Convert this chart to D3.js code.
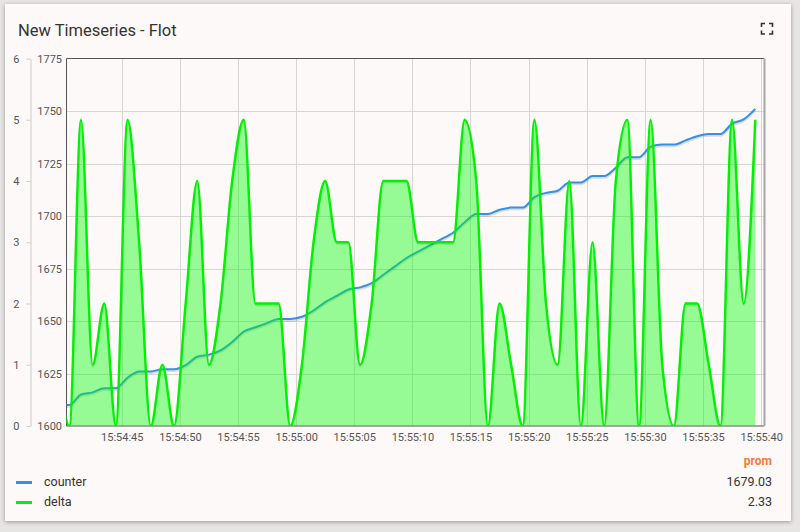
<!DOCTYPE html>
<html>
<head>
<meta charset="utf-8">
<script src="https://cdn.jsdelivr.net/npm/d3@7"></script>
<style>
  html, body { margin: 0; padding: 0; }
  body { width: 800px; height: 532px; background: #e7e5e4; position: relative; overflow: hidden; font-family: Roboto, "Noto Sans", sans-serif; }
  #card { position: absolute; left: 5px; top: 4px; width: 786px; height: 517px; background: #fcf9f8; box-shadow: 0 1px 4px rgba(0,0,0,0.35); }
  svg { position: absolute; left: 0; top: 0; }
</style>
</head>
<body>
<div id="card"></div>
<svg id="chart" width="800" height="532"></svg>
<script>
// ---- data ----
const title = "New Timeseries - Flot";
const times = [
  "15:54:39.5","15:54:40.5","15:54:41.5","15:54:42.5","15:54:43.5","15:54:44.5","15:54:45.5","15:54:46.5","15:54:47.5","15:54:48.5","15:54:49.5",
  "15:54:50.5","15:54:51.5","15:54:52.5","15:54:53.5","15:54:54.5","15:54:55.5","15:54:56.5","15:54:57.5","15:54:58.5","15:54:59.5",
  "15:55:00.5","15:55:01.5","15:55:02.5","15:55:03.5","15:55:04.5","15:55:05.5","15:55:06.5","15:55:07.5","15:55:08.5","15:55:09.5",
  "15:55:10.5","15:55:11.5","15:55:12.5","15:55:13.5","15:55:14.5","15:55:15.5","15:55:16.5","15:55:17.5","15:55:18.5","15:55:19.5",
  "15:55:20.5","15:55:21.5","15:55:22.5","15:55:23.5","15:55:24.5","15:55:25.5","15:55:26.5","15:55:27.5","15:55:28.5","15:55:29.5",
  "15:55:30.5","15:55:31.5","15:55:32.5","15:55:33.5","15:55:34.5","15:55:35.5","15:55:36.5","15:55:37.5","15:55:38.5","15:55:39.5"
];
const counterValues = [
  1610,1610,1615,1616,1618,1618,1623,1626,1626,1627,1627,
  1629,1633,1634,1636,1640,1645,1647,1649,1651,1651,
  1652,1655,1659,1662,1665,1666,1668,1672,1676,1680,
  1683,1686,1689,1692,1697,1701,1701,1703,1704,1704,
  1709,1711,1712,1716,1716,1719,1719,1723,1728,1728,
  1733,1734,1734,1736,1738,1739,1739,1744,1746,1751
];
const deltaValues = [
  1,0,5,1,2,0,5,3,0,1,0,
  2,4,1,2,4,5,2,2,2,0,
  1,3,4,3,3,1,2,4,4,4,
  3,3,3,3,5,4,0,2,1,0,
  5,2,1,4,0,3,0,4,5,0,
  5,1,0,2,2,1,0,5,2,5
];
const timeRange = ["15:54:40.25", "15:55:40.25"];
const xTickLabels = ["15:54:45","15:54:50","15:54:55","15:55:00","15:55:05","15:55:10","15:55:15","15:55:20","15:55:25","15:55:30","15:55:35","15:55:40"];
const counterTicks = [1600,1625,1650,1675,1700,1725,1750,1775];
const deltaTicks = [0,1,2,3,4,5,6];
const counterDomain = [1600, 1775];
const deltaDomain = [0, 6];
const seriesNames = ["counter", "delta"];
const legendHeader = "prom";
const legendValues = ["1679.03", "2.33"];

// ---- helpers ----
function parseT(s) {
  const p = s.split(":");
  const sec = parseFloat(p[2]);
  return new Date(Date.UTC(2021, 0, 1, +p[0], +p[1], 0) + sec * 1000);
}

const colors = { counter: "#3391e6", delta: "#00f200" };
const plot = { left: 66.5, right: 764, top: 58.5, bottom: 426 };

const svg = d3.select("#chart");

const x = d3.scaleUtc().domain(timeRange.map(parseT)).range([plot.left, plot.right]);
const yC = d3.scaleLinear().domain(counterDomain).range([plot.bottom, plot.top]);
const yD = d3.scaleLinear().domain(deltaDomain).range([plot.bottom, plot.top]);

const data = times.map((t, i) => ({ t: parseT(t), c: counterValues[i], d: deltaValues[i] }));

// title
svg.append("text").attr("x", 18).attr("y", 36)
  .attr("font-size", 16.5).attr("fill", "#333").attr("font-family", "Roboto")
  .text(title);

// fullscreen icon
const ic = svg.append("g").attr("stroke", "#333").attr("stroke-width", 1.6).attr("fill", "none");
const ix0 = 761.5, iy0 = 23.5, ix1 = 772.5, iy1 = 34, a = 3.5;
ic.append("path").attr("d", `M${ix0},${iy0+a}V${iy0}H${ix0+a}`);
ic.append("path").attr("d", `M${ix1-a},${iy0}H${ix1}V${iy0+a}`);
ic.append("path").attr("d", `M${ix0},${iy1-a}V${iy1}H${ix0+a}`);
ic.append("path").attr("d", `M${ix1-a},${iy1}H${ix1}V${iy1-a}`);

// clip
svg.append("defs").append("clipPath").attr("id", "clip")
  .append("rect").attr("x", plot.left).attr("y", plot.top - 5)
  .attr("width", plot.right - plot.left).attr("height", plot.bottom - plot.top + 5);

// grid
const grid = svg.append("g").attr("stroke", "#d8d5d5").attr("stroke-width", 1);
counterTicks.slice(1, -1).forEach(v => {
  grid.append("line").attr("x1", plot.left).attr("x2", plot.right)
    .attr("y1", Math.round(yC(v)) + 0.5).attr("y2", Math.round(yC(v)) + 0.5);
});
xTickLabels.forEach(s => {
  const xv = Math.round(x(parseT(s))) + 0.5;
  grid.append("line").attr("x1", xv).attr("x2", xv).attr("y1", plot.top).attr("y2", plot.bottom);
});

// border
svg.append("path").attr("fill", "none").attr("stroke", "#555").attr("stroke-width", 1)
  .attr("d", `M${plot.right},${plot.top}H${plot.left}V${plot.bottom}H${plot.right}`);
svg.append("line").attr("x1", plot.right + 0.5).attr("x2", plot.right + 0.5)
  .attr("y1", plot.top).attr("y2", plot.bottom).attr("stroke", "#a8a6a6").attr("stroke-width", 2);

// series
const g = svg.append("g").attr("clip-path", "url(#clip)");
const lineC = d3.line().x(d => x(d.t)).y(d => yC(d.c)).curve(d3.curveMonotoneX);
const lineD = d3.line().x(d => x(d.t)).y(d => yD(d.d)).curve(d3.curveMonotoneX);
const areaD = d3.area().x(d => x(d.t)).y0(plot.bottom).y1(d => yD(d.d)).curve(d3.curveMonotoneX);

g.append("path").datum(data).attr("d", lineC).attr("fill", "none")
  .attr("stroke", "rgba(0,0,0,0.12)").attr("stroke-width", 2.5).attr("transform", "translate(0,1.5)");
g.append("path").datum(data).attr("d", lineC).attr("fill", "none")
  .attr("stroke", colors.counter).attr("stroke-width", 2);

g.append("path").datum(data).attr("d", areaD).attr("fill", "#00ff00").attr("fill-opacity", 0.4);
g.append("path").datum(data).attr("d", lineD).attr("fill", "none")
  .attr("stroke", "rgba(0,0,0,0.08)").attr("stroke-width", 2.5).attr("transform", "translate(0,1.5)");
g.append("path").datum(data).attr("d", lineD).attr("fill", "none")
  .attr("stroke", colors.delta).attr("stroke-width", 2.4);

// axes
const axisStyle = sel => {
  sel.selectAll("text").attr("font-family", "Roboto").attr("font-size", 11).attr("fill", "#555");
};
const ax = svg.append("g").attr("transform", `translate(0,${plot.bottom})`)
  .call(d3.axisBottom(x).tickValues(xTickLabels.map(parseT)).tickFormat(d3.utcFormat("%H:%M:%S")).tickSize(0).tickPadding(7));
ax.select(".domain").remove();
axisStyle(ax);

const ayC = svg.append("g").attr("transform", `translate(${plot.left - 1},0)`)
  .call(d3.axisLeft(yC).tickValues(counterTicks).tickFormat(d3.format("d")).tickSize(0).tickPadding(3.5));
ayC.select(".domain").remove();
axisStyle(ayC);

const ayD = svg.append("g").attr("transform", `translate(30.5,0)`)
  .call(d3.axisLeft(yD).tickValues(deltaTicks).tickFormat(d3.format("d")).tickSize(4).tickSizeOuter(0).tickPadding(7));
ayD.select(".domain").attr("stroke", "#cfcccc");
ayD.selectAll(".tick line").attr("stroke", "#cfcccc");
axisStyle(ayD);

// legend
svg.append("text").attr("x", 772).attr("y", 465).attr("text-anchor", "end")
  .attr("font-family", "Roboto").attr("font-weight", "bold").attr("font-size", 12).attr("fill", "#f5793b")
  .text(legendHeader);
seriesNames.forEach((name, i) => {
  const yy = 486 + i * 20;
  svg.append("rect").attr("x", 16).attr("y", yy - 5).attr("width", 16).attr("height", 3)
    .attr("fill", colors[name]);
  svg.append("text").attr("x", 44).attr("y", yy).attr("font-family", "Roboto").attr("font-size", 12.5)
    .attr("fill", "#333").text(name);
  svg.append("text").attr("x", 772).attr("y", yy).attr("text-anchor", "end")
    .attr("font-family", "Roboto").attr("font-size", 12.5).attr("fill", "#333").text(legendValues[i]);
});
</script>
</body>
</html>
